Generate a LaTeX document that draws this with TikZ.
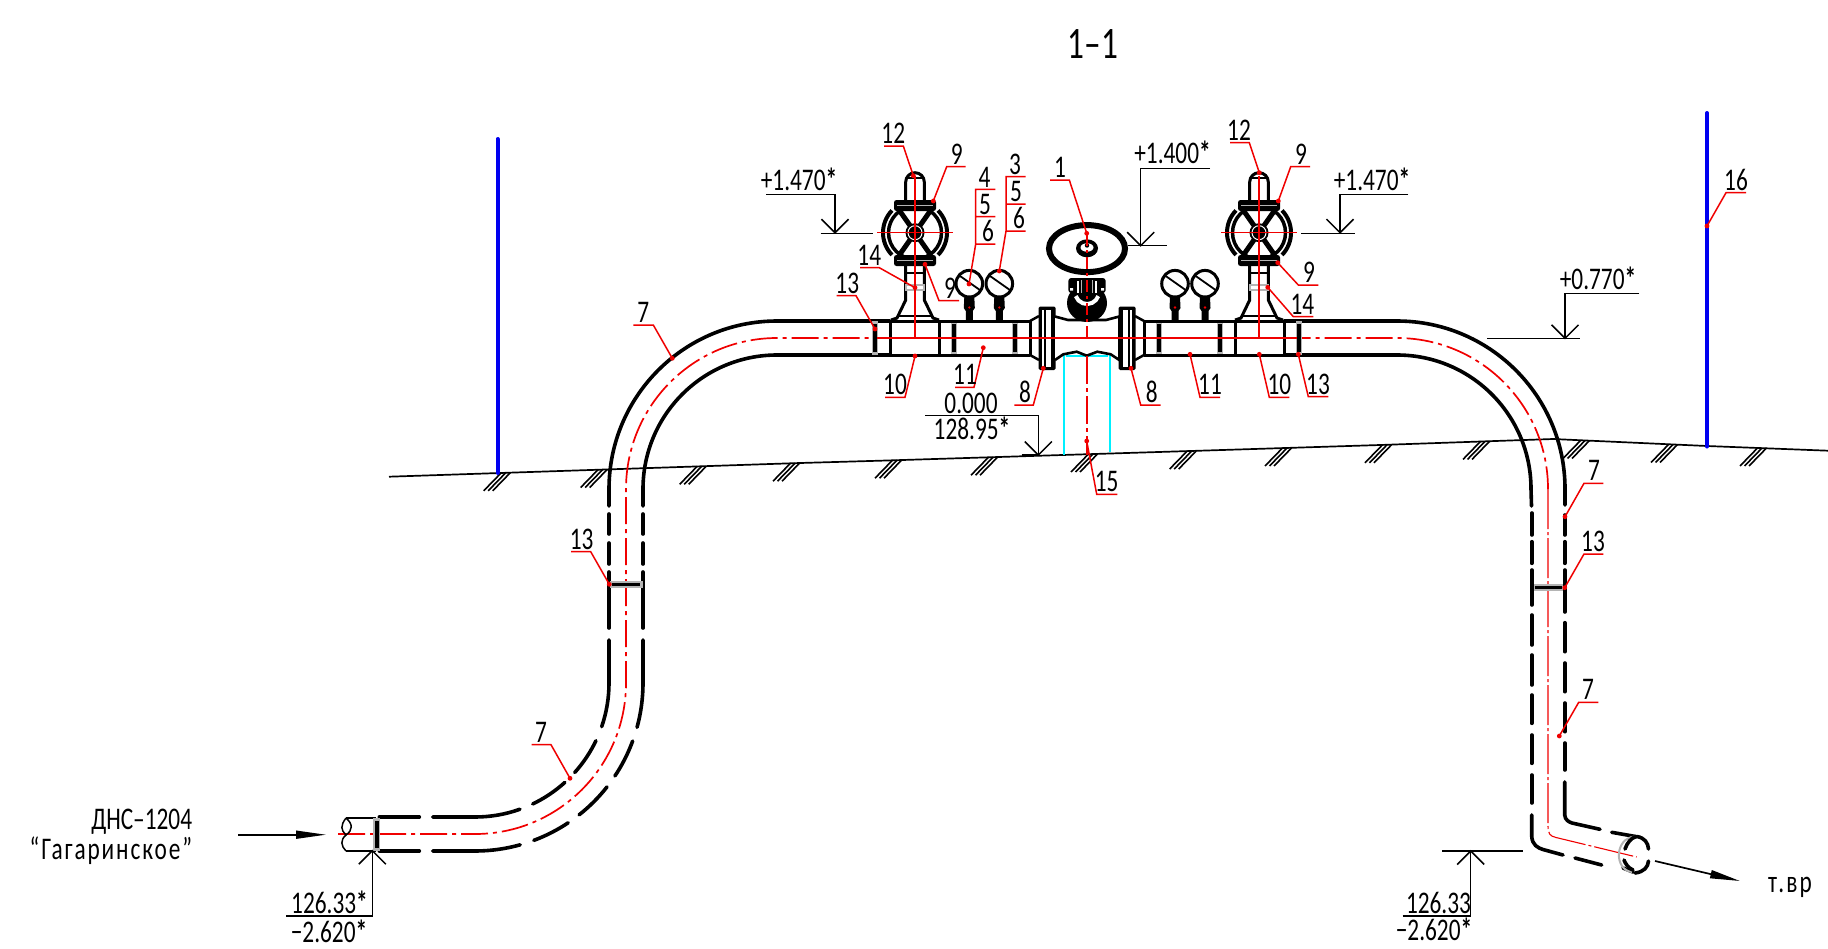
\documentclass[tikz,border=0pt]{standalone}
\usepackage{fontspec}
\usetikzlibrary{arrows.meta}
\setmainfont[FakeStretch=0.74]{Carlito}
\definecolor{flg}{HTML}{B4B4B4}
\definecolor{cy}{HTML}{00F0FF}
\definecolor{bl}{HTML}{0000F0}
\definecolor{rd}{HTML}{F00000}
\tikzset{
  pl/.style={line width=3.6pt,line cap=round,black},
  pm/.style={line width=3pt,black},
  dl/.style={line width=1.5pt,black},
  cl/.style={line width=1.7pt,rd,dash pattern=on 27pt off 5pt on 4pt off 5pt},
  clt/.style={line width=1.1pt,rd,dash pattern=on 40pt off 3pt on 3pt off 3pt},
  leader/.style={line width=1.5pt,rd},
  hatch/.style={line width=1.6pt,black},
  txt/.style={inner sep=0pt,anchor=base,font=\fontsize{31.5}{31.5}\selectfont,text=black},
  pole/.style={line width=4pt,bl,line cap=round},
  cyl/.style={line width=1.9pt,cy},
}
\newcommand\bast{\textbf{*}}
\newcounter{nn}
\newcommand\lab[4][]{\stepcounter{nn}\node[txt,#1] (n\thenn) at (#2,#3) {#4};}
\newcommand\parc[6]{\draw[#1] (#2,#3) ++(#5:#4pt) arc[start angle=#5,end angle=#6,radius=#4pt];}
\newcommand\lead[7]{\draw[leader] (#1,#2) -- (#3,#4) -- (#5,#4);\fill[rd] (#1,#2) circle[radius=2.4pt];\lab{#6}{#4-2.5}{#7}}
\newcommand\tick[2]{\draw[dl] (#1-13.5,#2-13.5) -- (#1,#2) -- (#1+13.5,#2-13.5);}
\newcommand\tickup[2]{\draw[dl] (#1-13.5,#2+13.5) -- (#1,#2) -- (#1+13.5,#2+13.5);}
\newcommand\flgv[1]{\draw[flg,line width=6.5pt] (#1,321) -- (#1,355);\draw[black,line width=3.5pt] (#1,324) -- (#1,352);}
\newcommand\gauge[1]{%
  \fill[black] (#1-5,297) -- (#1+5,297) -- (#1+5.5,308) -- (#1+3.5,311) -- (#1+3.5,321) -- (#1-3.5,321) -- (#1-3.5,311) -- (#1-5.5,308) -- cycle;
  \fill[rd] (#1,307.5) circle[radius=1.3pt];
  \draw[line width=3pt,fill=white] (#1,283.7) circle[radius=13.3pt];
  \draw[line width=1.8pt] (#1-10,275.5) -- (#1+12,291);
}
\newcommand\halfsec{%
  \flgv{875}
  \draw[pm] (890,321) -- (890,355) (939,321) -- (939,355) (1030,321) -- (1030,355);
  \flgv{954}\flgv{1015}
  \draw[pm] (890,321) -- (1030,321) (890,355) -- (1030,355);
  \draw[line width=2.5pt] (1030,321) -- (1039,316) (1030,355) -- (1039,360);
  % inlet flange
  \fill[black,rounded corners=1.5pt] (1038.5,306.5) rectangle (1055.5,370);
  \fill[white] (1041.8,309.5) rectangle (1044.2,367);
  \fill[white] (1046.2,309.5) rectangle (1051,367);
  % handwheel valve
  \draw[line width=3pt] (905.7,200) -- (905.7,182) arc[start angle=180,end angle=360,radius=9.3pt] -- (924.3,200);
  \draw[line width=2pt] (905.7,178) -- (924.3,178);
  \draw[line width=4pt] (915,232.7) ++(136:32pt) arc[start angle=136,end angle=224,radius=32pt];
  \draw[line width=4pt] (915,232.7) ++(-44:32pt) arc[start angle=-44,end angle=44,radius=32pt];
  \draw[line width=3.5pt] (915,232.7) circle[radius=26.5pt];
  \foreach \a in {55,125,235,305}{\draw[line width=5pt] (915,232.7) -- ++(\a:28pt);}
  \fill[black] (915,232.7) circle[radius=9.5pt];
  \draw[white,line width=1pt] (915,232.7) circle[radius=7pt];
  \foreach \yy in {200,255}{
    \fill[black,rounded corners=2.5pt] (894,\yy) rectangle (936,\yy+11);
    \draw[flg,line width=.8pt] (897,\yy+5.5) -- (933,\yy+5.5);
  }
  \draw[line width=3pt] (905.7,266) -- (905.7,300) -- (897,318) -- (891,320) (924.3,266) -- (924.3,300) -- (933,318) -- (939,320);
  \draw[line width=2pt] (897,316) -- (933,316) (905.7,273) -- (924.3,273);
  \draw[flg,line width=2pt,fill=white] (906,284.5) rectangle (924,290);
}
\begin{document}
\begin{tikzpicture}[x=1pt,y=1pt,yscale=-1]
\useasboundingbox (0,0) rectangle (1828,948);
\fill[white] (0,0) rectangle (1828,948);
% ground
\draw[line width=1.7pt] (389,476.7) -- (800,463) -- (880,460.7) -- (1200,450.7) -- (1380,445) -- (1553,439) -- (1707,446) -- (1828,450.7);
\foreach \x/\y in {505.7/472.8,602.7/469.5,701.7/466.3,795/463.2,897/460.2,993/457.2,1093/454,1191.7/451,1287/448,1387/444.8,1485/441.4,1585/440.5,1673/444.5,1762/448}{
  \foreach \k in {-4.5,0,4.5}{\draw[hatch] ({\x+\k},\y) -- ({\x+\k-17.5},\y+18);}
}
% poles
\draw[pole] (497.5,139) -- (497.5,473);
\draw[pole] (1707,113) -- (1707,446.5);
% cyan
\draw[cyl] (1064,355) -- (1064,455) (1110,355) -- (1110,452);
\draw[cy,line width=2pt] (1066,356) -- (1108,356);
% center lines
\draw[cl] (338,834) -- (475,834) arc[start angle=90,end angle=0,radius=151pt] -- (626,489) arc[start angle=180,end angle=270,radius=151pt] -- (1397,338) arc[start angle=270,end angle=360,radius=151pt];
\draw[clt] (1548,489) -- (1548,826) .. controls (1548,834) and (1550,836) .. (1556,837.5) -- (1636.7,857);
% pipe upper run
\draw[pl] (609,506) -- (609,489) arc[start angle=180,end angle=270,radius=168pt] -- (890,321);
\draw[pl] (643,506) -- (643,489) arc[start angle=180,end angle=270,radius=134pt] -- (890,355);
\draw[pl] (1284,321) -- (1397,321) arc[start angle=270,end angle=360,radius=168pt] -- (1565,505);
\draw[pl] (1284,355) -- (1397,355) arc[start angle=270,end angle=360,radius=134pt] -- (1531.5,506);
% left vertical
\foreach \x in {609,643}{
  \draw[pl] (\x,514) -- (\x,534) (\x,543) -- (\x,564) (\x,572) -- (\x,628);
}
\draw[pl] (609,640) -- (609,683) arc[start angle=0,end angle=19,radius=134pt];
\parc{pl}{475}{683}{134}{25.5}{41.9}
\parc{pl}{475}{683}{134}{47.9}{64.5}
\draw[pl] (475,683) ++(70.4:134pt) arc[start angle=70.4,end angle=90,radius=134pt] -- (432.7,817);
\draw[pl] (419.3,817) -- (379.3,817);
\draw[pl] (643,640) -- (643,683) arc[start angle=0,end angle=15.3,radius=168pt];
\parc{pl}{475}{683}{168}{20.2}{33.6}
\parc{pl}{475}{683}{168}{38.2}{51.7}
\parc{pl}{475}{683}{168}{56.3}{69.5}
\draw[pl] (475,683) ++(74.4:168pt) arc[start angle=74.4,end angle=90,radius=168pt] -- (432.7,851);
\draw[pl] (419.3,851) -- (379.3,851);
% left end
\draw[dl] (376,818) -- (346,818) (376,851) -- (346,851);
\draw[dl] (346,818) .. controls (340,826) and (341,830) .. (346,835) .. controls (353,830) and (353,824) .. (346,818);
\draw[dl] (346,835) .. controls (340,840) and (341,846) .. (346,851);
\draw[flg,line width=7pt] (376.7,818) -- (376.7,851);
\draw[black,line width=4pt] (376.7,821) -- (376.7,848);
% flanges on verticals
\draw[flg,line width=7pt] (609.5,584.3) -- (642.5,584.3);
\draw[black,line width=3.5pt] (612,584.3) -- (640,584.3);
\draw[flg,line width=7pt] (1532,587.7) -- (1565,587.7);
\draw[black,line width=3.5pt] (1535,587.7) -- (1562,587.7);
% right vertical
\draw[pl] (1531.7,513) -- (1531.7,535) (1531.7,541.7) -- (1531.7,563.3) (1531.7,570) -- (1531.7,605) (1531.7,615) -- (1531.7,645) (1531.7,655) -- (1531.7,685) (1531.7,695) -- (1531.7,723.3) (1531.7,735) -- (1531.7,763.3) (1531.7,775) -- (1531.7,803);
\draw[pl] (1564.7,515) -- (1564.7,535) (1564.7,541.7) -- (1564.7,563.3) (1564.7,570) -- (1564.7,612) (1564.7,622.7) -- (1564.7,651.7) (1564.7,663) -- (1564.7,691.7) (1564.7,703) -- (1564.7,731.7) (1564.7,743) -- (1564.7,770);
\draw[pl] (1531.7,815) -- (1531.7,836) .. controls (1532,845) and (1538,848) .. (1543,849.5) -- (1563,855);
\draw[pl] (1575,858) -- (1601.7,865) (1623,868) -- (1633,872);
\draw[pl] (1564.7,782) -- (1564.7,815) .. controls (1565,820) and (1569,822) .. (1572,823) -- (1600,829.3);
\draw[pl] (1611.7,832.3) -- (1636.7,836.7);
% outlet end
\draw[flg,line width=2pt] (1635,836.5) .. controls (1614,838) and (1614,870) .. (1632,872);
\draw[pl] (1637,836.5) .. controls (1645,838) and (1648,843) .. (1648.5,849);
\draw[pl] (1648.5,861) .. controls (1648,867) and (1644,872) .. (1635,873);
\draw[pl] (1633,870) .. controls (1628,868) and (1625,863) .. (1624,860);
\draw[pl] (1625,849) .. controls (1627,843) and (1631,838) .. (1636,836.5);
% half sections, left and mirrored
\halfsec
\begin{scope}[shift={(2174,0)},xscale=-1]
\halfsec
\end{scope}
% gauges
\gauge{969.3}\gauge{999.3}\gauge{1175}\gauge{1205}
% central valve
\draw[line width=2.6pt,fill=white] (1055,316.5) -- (1068,320) -- (1106,320) -- (1119.3,316.5) -- (1119.3,360) -- (1110.7,354.3) -- (1097.3,351.7) -- (1086.7,355.7) -- (1076.7,351.7) -- (1063.3,354.3) -- (1055,360);
\fill[black] (1087,303) ellipse[x radius=20pt,y radius=19pt];
\draw[white,line width=4pt] (1087,292) ++(20:12pt) arc[start angle=20,end angle=160,radius=12pt];
\fill[black,rounded corners=3pt] (1068.3,278) rectangle (1105.7,293);
\fill[white] (1070,288) rectangle (1073,290.5) (1101,288) rectangle (1104,290.5);
\draw[flg,line width=1.6pt] (1081.5,280) -- (1081.5,293) (1092.5,280) -- (1092.5,293);
\draw[white,line width=1.2pt] (1078,281) -- (1078,293) (1096,281) -- (1096,293);
\draw[line width=6pt,fill=white] (1087,248.6) ellipse[x radius=38pt,y radius=23.5pt];
\fill[black] (1087,248.3) ellipse[x radius=11pt,y radius=9pt];
\fill[white] (1087,247.5) ellipse[x radius=6.5pt,y radius=4.2pt];
\fill[black] (1087,245.5) circle[radius=2.2pt];
% red axes over equipment
\draw[leader,line width=1.3pt] (877,232.7) -- (953,232.7);
\draw[leader,line width=1.3pt] (1221,232.7) -- (1297,232.7);
\draw[rd,line width=1.1pt] (915,176) -- (915,338) (1259,176) -- (1259,338);
\draw[rd,line width=1.5pt,dash pattern=on 12pt off 4pt on 3pt off 4pt] (1087,234) -- (1087,338);
\draw[rd,line width=1.2pt] (877,338) -- (1297,338);
\draw[rd,line width=2.2pt,dash pattern=on 28pt off 4pt on 4pt off 4pt] (1087,356) -- (1087,455);
% elevation marks
\draw[dl] (766,194.3) -- (835,194.3) (835,194.3) -- (835,232.7) (820.7,233.3) -- (873.3,233.3); \tick{835}{232.7}
\draw[dl] (1408.3,194.3) -- (1340,194.3) -- (1340,232.7) (1301,233.3) -- (1355,233.3); \tick{1340}{232.7}
\draw[dl] (1210,168.3) -- (1140.7,168.3) -- (1140.7,245.7) (1128,245.7) -- (1166.7,245.7); \tick{1140.7}{245.7}
\draw[dl] (1639.3,293.3) -- (1565,293.3) -- (1565,338.3) (1487.3,338.3) -- (1580,338.3); \tick{1565}{338.3}
\draw[dl] (925,415.7) -- (1038.3,415.7) -- (1038.3,455) (1021.7,455) -- (1038.3,455); \tick{1038.3}{455}
\draw[dl] (286,916) -- (372.3,916) -- (372.3,850.7); \tickup{372.3}{850.7}
\draw[dl] (1402.7,916) -- (1470.7,916) -- (1470.7,851) (1442.3,851) -- (1523.3,851); \tickup{1470.7}{851}
% flow arrows
\draw[line width=1.7pt,-{Triangle[length=30pt,width=8pt]}] (238,834.7) -- (326,834.7);
\draw[line width=1.7pt,-{Triangle[length=30pt,width=8pt]}] (1655,861) -- (1740,881);
% elevation texts
\lab{799}{190}{+1.470\bast}
\lab{1372}{190}{+1.470\bast}
\lab{1172.5}{163}{+1.400\bast}
\lab{1598}{289}{+0.770\bast}
\lab{971}{413}{0.000}
\lab{972}{439}{128.95\bast}
\lab{329.5}{913}{126.33\bast}
\lab{329}{942}{−2.620\bast}
\lab{1438.5}{913}{126.33}
\lab{1434}{940}{−2.620\bast}
\lab[anchor=base east]{192.3}{829.5}{ДНС–1204}
\lab[anchor=base east]{192.3}{859}{\addfontfeature{LetterSpace=6}“Гагаринское”}
\lab{1790}{892}{\addfontfeature{LetterSpace=7}т.вр}
\lab[font=\fontsize{45}{45}\selectfont]{1093}{58}{1–1}
% leaders
\lead{913.3}{175.7}{903.3}{146}{884}{893.3}{12}
\lead{933.3}{201}{946.7}{166.7}{965.7}{956.7}{9}
\lead{925}{264.3}{939}{300.7}{959}{950}{9}
\lead{915}{287.7}{879.3}{267.7}{860}{869.3}{14}
\lead{875}{329}{856}{295.7}{836.7}{847.3}{13}
\lead{915}{356}{905}{397.3}{885}{895}{10}
\lead{983.3}{347.7}{974}{387.3}{955}{965}{11}
\lead{1043.3}{368.3}{1033.3}{405}{1014.3}{1025}{8}
\lead{1086.7}{233.3}{1069.3}{180}{1050}{1060}{1}
\lead{1086.7}{441}{1096.7}{494.3}{1117.3}{1106.7}{15}
\lead{1131}{368.3}{1140.7}{405}{1160.7}{1151.7}{8}
\lead{1190}{354.3}{1200}{397.3}{1220}{1210}{11}
\lead{1259.3}{354.3}{1269.3}{397.3}{1289.3}{1279.3}{10}
\lead{1298.3}{354.3}{1308.3}{396.7}{1328.3}{1318}{13}
\lead{1267.7}{287.3}{1293.3}{316.7}{1313.3}{1302.3}{14}
\lead{1277.7}{262.7}{1298.3}{285}{1318.3}{1309}{9}
\lead{1278.3}{201}{1290.7}{166.7}{1310}{1301}{9}
\lead{1259.3}{172.7}{1249.3}{142.7}{1230}{1239}{12}
\lead{609.3}{584.3}{590.7}{551.7}{571}{581.7}{13}
\lead{570}{778.3}{551}{744.7}{531.7}{541}{7}
\lead{672.3}{358.3}{653.3}{325}{633.3}{643.3}{7}
\lead{1565}{516.7}{1584}{483.3}{1603.3}{1594}{7}
\lead{1564.7}{587.7}{1584}{554}{1603.3}{1593}{13}
\lead{1559.3}{736}{1578.7}{702.3}{1598.3}{1588}{7}
\lead{1707}{226}{1726}{192.7}{1746}{1736}{16}
% stacked leaders
\draw[leader] (969,284) -- (975.7,244) -- (975.7,189.3) -- (995.3,189.3) (975.7,216.7) -- (995.3,216.7) (975.7,244) -- (995.3,244);
\fill[rd] (969,284) circle[radius=2.4pt];
\lab{984.5}{187}{4}\lab{985}{214}{5}\lab{988}{241}{6}
\draw[leader] (999.3,271) -- (1006,231) -- (1006,176.7) -- (1025.7,176.7) (1006,204) -- (1025.7,204) (1006,231) -- (1025.7,231);
\fill[rd] (999.3,271) circle[radius=2.4pt];
\lab{1015}{174.5}{3}\lab{1016}{201.5}{5}\lab{1019}{228.5}{6}
\end{tikzpicture}
\end{document}
